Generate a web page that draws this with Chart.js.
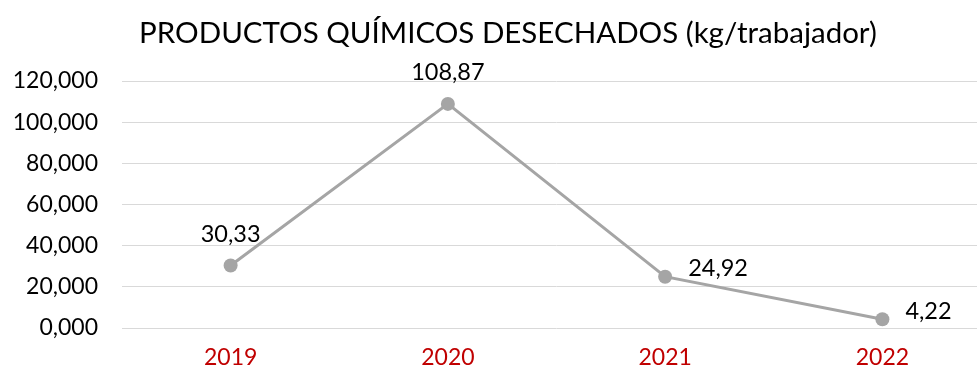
<!DOCTYPE html>
<html>
<head>
<meta charset="utf-8">
<script src="https://cdn.jsdelivr.net/npm/chart.js@4/dist/chart.umd.min.js"></script>
<style>
  html, body { margin: 0; padding: 0; background: #fff; overflow: hidden; }
  #wrap { width: 1016px; height: 370px; position: relative; }
</style>
</head>
<body>
<div id="wrap"><canvas id="c"></canvas></div>
<script>
// Chart data
const years = ['2019', '2020', '2021', '2022'];
const wastePerWorker = [30.33, 108.87, 24.92, 4.22];
const yTicks = [0, 20, 40, 60, 80, 100, 120];
const labelPlacement = ['top', 'top', 'right', 'right'];
const chartTitle = 'PRODUCTOS QUÍMICOS DESECHADOS (kg/trabajador)';

const FONT = 'Lato, "Open Sans", sans-serif';
const fmt = (v, d) => v.toFixed(d).replace('.', ',');

// Title centred over the plot block (axis labels + plot)
const titlePlugin = {
  id: 'centredTitle',
  afterDraw(chart) {
    const ctx = chart.ctx;
    ctx.save();
    ctx.font = '29.5px ' + FONT;
    ctx.fillStyle = '#000';
    ctx.textAlign = 'center';
    ctx.textBaseline = 'middle';
    ctx.fillText(chartTitle, (13 + chart.chartArea.right) / 2 + 6, 33);
    ctx.restore();
  }
};

// Value labels next to each point
const pointLabels = {
  id: 'pointLabels',
  afterDatasetsDraw(chart) {
    const ctx = chart.ctx;
    const meta = chart.getDatasetMeta(0);
    ctx.save();
    ctx.font = '23.5px ' + FONT;
    ctx.fillStyle = '#000';
    ctx.textBaseline = 'middle';
    meta.data.forEach((pt, i) => {
      const text = fmt(wastePerWorker[i], 2);
      if (labelPlacement[i] === 'top') {
        ctx.textAlign = 'center';
        ctx.fillText(text, pt.x, pt.y - 31);
      } else {
        ctx.textAlign = 'left';
        ctx.fillText(text, pt.x + 23, pt.y - 8);
      }
    });
    ctx.restore();
  }
};

new Chart(document.getElementById('c'), {
  type: 'line',
  data: {
    labels: years,
    datasets: [{
      data: wastePerWorker,
      borderColor: '#a5a5a5',
      backgroundColor: '#a5a5a5',
      borderWidth: 3,
      pointRadius: 7,
      pointHoverRadius: 7,
      pointBorderWidth: 0,
      tension: 0
    }]
  },
  options: {
    responsive: true,
    maintainAspectRatio: false,
    animation: false,
    layout: { padding: { top: 81, right: 25, bottom: 0, left: 0 } },
    plugins: {
      legend: { display: false },
      tooltip: { enabled: false },
      title: { display: false }
    },
    scales: {
      x: {
        offset: true,
        grid: { display: false, drawTicks: false },
        border: { display: false },
        ticks: { color: '#c00000', font: { family: FONT, size: 23 }, padding: 16 },
        afterFit(axis) { axis.height = 42; }
      },
      y: {
        min: 0,
        max: 120,
        afterBuildTicks(axis) { axis.ticks = yTicks.map(v => ({ value: v })); },
        grid: { color: '#d9d9d9', lineWidth: 1, drawTicks: false },
        border: { display: false },
        ticks: {
          color: '#000',
          font: { family: FONT, size: 23 },
          padding: 24,
          callback: v => fmt(v, 3)
        },
        afterFit(axis) { axis.width = 122; }
      }
    }
  },
  plugins: [pointLabels, titlePlugin]
});
</script>
</body>
</html>
